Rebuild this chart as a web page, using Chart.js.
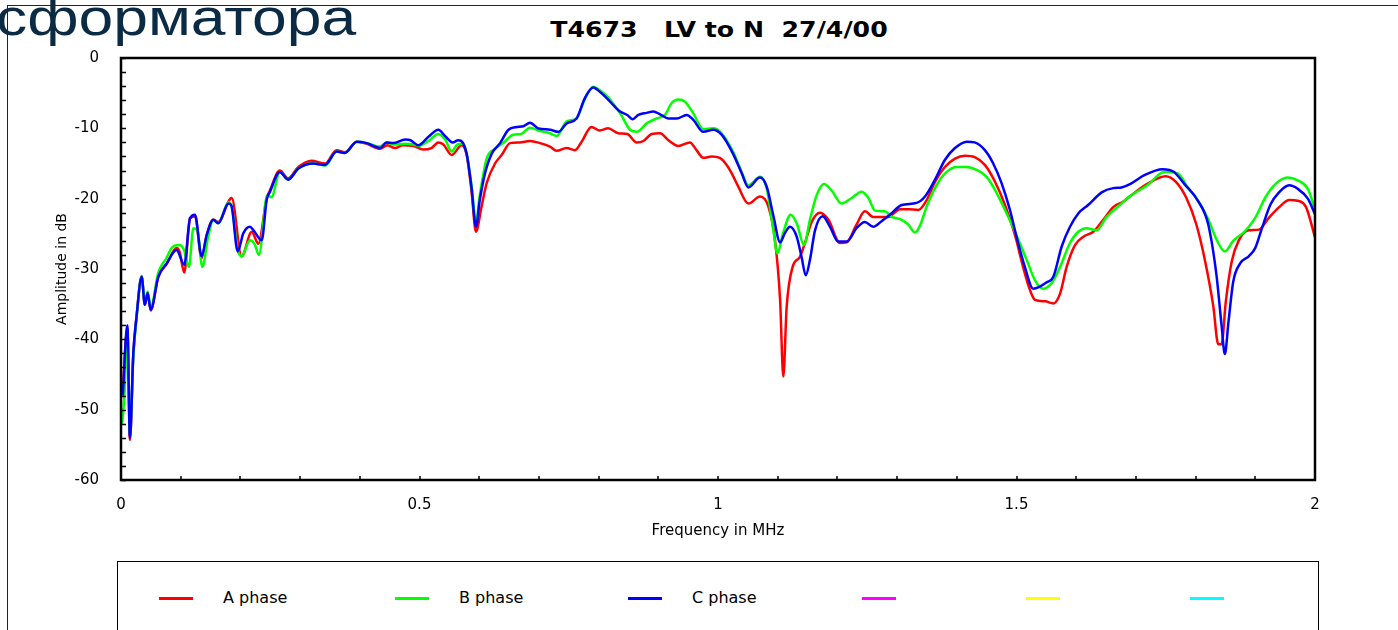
<!DOCTYPE html>
<html>
<head>
<meta charset="utf-8">
<script src="https://cdn.jsdelivr.net/npm/chart.js@4.4.1/dist/chart.umd.min.js"></script>
<style>
  body { margin: 0; width: 1398px; height: 630px; overflow: hidden; background: #fff; position: relative; }
  #slideText { position: absolute; left: -4px; top: -9px; font: 52px/52px "Liberation Sans", Arial, sans-serif; color: #0b2a44; transform: scaleX(1.2); transform-origin: 0 0; white-space: nowrap; z-index: 3; }
  #hline { position: absolute; left: 7px; top: 5px; width: 1391px; height: 1px; background: #222; }
  #vline { position: absolute; left: 7px; top: 5px; width: 1px; height: 625px; background: #222; }
  #chartTitle { position: absolute; left: 0; width: 1438px; top: 18px; text-align: center; font: bold 21px "DejaVu Sans", sans-serif; white-space: pre; color: #000; z-index: 2; transform: scaleX(1.2); transform-origin: 719px 0; }
  #wrap { position: absolute; left: 0; top: 0; width: 1398px; height: 630px; z-index: 2; }
  #legendBox { position: absolute; left: 117px; top: 561px; width: 1200px; height: 90px; border: 1px solid #000; background: #fff; z-index: 2; }
  .item { position: absolute; top: 0; height: 100%; }
  .swatch { position: absolute; top: 35px; width: 34px; height: 3px; }
  .lbl { position: absolute; left: 64px; top: 26px; font: 16px "DejaVu Sans", sans-serif; color: #000; white-space: nowrap; }
</style>
</head>
<body>
<div id="hline"></div>
<div id="vline"></div>
<div id="slideText">сформатора</div>
<div id="chartTitle">T4673   LV to N  27/4/00</div>
<div id="wrap"><canvas id="chart" width="1398" height="630"></canvas></div>
<div id="legendBox"></div>
<script>
// frequency in MHz / amplitude in dB
var freqA = [0.003,0.0106,0.015,0.0206,0.026,0.0346,0.040,0.0446,0.0497,0.0625,0.0765,0.093,0.098,0.106,0.1156,0.124,0.135,0.1435,0.1546,0.163,0.1854,0.202,0.219,0.23,0.244,0.2496,0.266,0.280,0.297,0.319,0.342,0.361,0.375,0.395,0.4115,0.434,0.446,0.459,0.472,0.49,0.506,0.52,0.5315,0.54,0.554,0.5706,0.579,0.587,0.5946,0.604,0.6125,0.6265,0.6376,0.6516,0.668,0.685,0.7019,0.7186,0.7297,0.7465,0.7605,0.7716,0.788,0.802,0.816,0.833,0.848,0.8638,0.875,0.889,0.903,0.917,0.9336,0.953,0.964,0.9754,0.9894,1.003,1.0145,1.023,1.034,1.0508,1.0704,1.0843,1.0955,1.104,1.1094,1.115,1.125,1.137,1.1457,1.157,1.171,1.185,1.2044,1.2155,1.232,1.246,1.260,1.285,1.305,1.32,1.3356,1.3496,1.3635,1.380,1.397,1.4137,1.430,1.447,1.464,1.4807,1.4975,1.511,1.5226,1.531,1.548,1.5617,1.573,1.584,1.598,1.612,1.6287,1.6454,1.662,1.679,1.691,1.719,1.750,1.767,1.784,1.801,1.815,1.8295,1.838,1.8436,1.8505,1.8606,1.872,1.889,1.906,1.923,1.94,1.957,1.971,1.985,2.0];
var ampA = [-47.0,-38.5,-54.3,-42.2,-36.8,-31.1,-35.1,-33.4,-35.9,-31.1,-29.3,-27.0,-27.5,-30.5,-22.8,-22.5,-28.5,-25.2,-23.0,-23.3,-19.9,-28.2,-24.7,-26.4,-20.0,-18.8,-16.0,-17.1,-15.5,-14.6,-15.0,-13.1,-13.4,-11.9,-12.2,-12.9,-12.4,-12.8,-12.4,-12.5,-13.0,-12.8,-12.0,-12.3,-13.8,-12.4,-13.8,-18.8,-24.7,-21.1,-17.8,-15.0,-13.8,-12.1,-12.0,-11.8,-12.1,-12.6,-13.2,-12.8,-13.1,-11.9,-9.8,-10.3,-10.0,-10.7,-10.8,-12.0,-11.8,-10.8,-10.7,-11.7,-12.5,-12.0,-13.1,-14.2,-14.0,-14.2,-15.2,-16.4,-18.3,-20.7,-19.7,-21.1,-25.9,-34.4,-45.3,-35.4,-29.7,-28.3,-26.3,-23.3,-22.0,-23.0,-26.3,-26.2,-23.7,-21.8,-22.6,-22.6,-21.5,-21.5,-21.6,-20.2,-17.6,-15.5,-14.3,-13.9,-14.1,-15.2,-17.6,-20.9,-25.2,-29.7,-33.0,-34.4,-34.6,-34.9,-33.5,-29.7,-26.6,-25.4,-24.7,-23.0,-21.2,-20.4,-19.6,-17.9,-16.8,-17.6,-19.8,-23.6,-28.5,-35.2,-40.7,-40.7,-34.7,-28.9,-26.0,-24.5,-24.4,-22.7,-21.2,-20.2,-20.3,-21.2,-25.5];

var freqB = [0.002,0.006,0.0106,0.015,0.0206,0.026,0.0346,0.040,0.0446,0.0497,0.0625,0.0765,0.085,0.098,0.105,0.1139,0.1211,0.128,0.1362,0.146,0.1546,0.163,0.180,0.185,0.1954,0.202,0.216,0.224,0.231,0.245,0.252,0.266,0.280,0.297,0.322,0.342,0.361,0.375,0.395,0.4115,0.434,0.445,0.456,0.476,0.49,0.498,0.515,0.5315,0.543,0.554,0.5636,0.573,0.579,0.587,0.5946,0.601,0.6125,0.625,0.64,0.657,0.67,0.685,0.699,0.7186,0.7297,0.7465,0.763,0.777,0.791,0.802,0.8136,0.8246,0.8358,0.8526,0.8638,0.8805,0.897,0.911,0.9224,0.9336,0.9447,0.9587,0.9754,0.992,1.006,1.0257,1.0397,1.0508,1.0704,1.0816,1.0927,1.0994,1.109,1.1217,1.1318,1.144,1.154,1.1653,1.1776,1.190,1.207,1.224,1.2407,1.252,1.263,1.2797,1.291,1.305,1.318,1.330,1.338,1.3496,1.366,1.383,1.4,1.4166,1.433,1.450,1.4668,1.4836,1.500,1.517,1.531,1.545,1.559,1.573,1.5896,1.6035,1.6176,1.634,1.651,1.673,1.691,1.719,1.7474,1.77,1.787,1.804,1.821,1.835,1.849,1.863,1.883,1.900,1.917,1.934,1.954,1.971,1.988,2.0];
var ampB = [-52.0,-47.5,-38.5,-53.5,-42.5,-37.0,-31.0,-35.0,-33.2,-35.6,-30.5,-28.4,-27.0,-26.6,-27.2,-29.7,-24.2,-24.5,-29.7,-25.4,-23.0,-23.5,-20.5,-21.0,-27.2,-28.2,-25.9,-26.5,-28.0,-19.5,-19.8,-16.2,-17.3,-15.7,-15.0,-15.3,-13.3,-13.5,-11.9,-12.1,-12.6,-12.0,-12.3,-12.2,-12.3,-12.5,-11.8,-10.8,-11.6,-13.3,-12.3,-12.2,-13.6,-18.0,-23.3,-19.5,-14.3,-13.0,-12.1,-10.9,-10.8,-9.9,-10.3,-10.7,-11.1,-9.0,-8.6,-5.8,-4.1,-4.6,-5.4,-6.5,-7.8,-10.2,-10.5,-9.3,-8.6,-8.1,-6.4,-5.9,-6.2,-7.9,-10.1,-10.0,-10.7,-13.4,-16.2,-18.1,-16.9,-18.6,-24.5,-27.8,-24.9,-22.3,-23.5,-26.6,-23.0,-19.5,-17.9,-18.8,-20.7,-19.9,-19.0,-19.9,-21.7,-21.8,-22.6,-22.9,-23.6,-24.8,-23.9,-21.1,-18.1,-16.2,-15.5,-15.5,-15.9,-16.9,-19.2,-22.1,-25.2,-28.7,-31.6,-32.8,-32.0,-29.7,-26.3,-24.7,-24.2,-24.5,-22.6,-20.9,-19.6,-18.1,-16.2,-16.4,-18.4,-20.3,-22.9,-25.8,-27.5,-26.0,-24.6,-22.7,-19.8,-17.9,-17.0,-17.4,-18.6,-21.5];

var freqC = [0.003,0.0106,0.015,0.0206,0.026,0.0346,0.040,0.0446,0.0497,0.0625,0.0765,0.093,0.106,0.1156,0.124,0.135,0.1435,0.1546,0.163,0.180,0.185,0.1954,0.205,0.216,0.222,0.2357,0.244,0.2496,0.266,0.280,0.297,0.322,0.342,0.361,0.375,0.395,0.4115,0.434,0.445,0.456,0.476,0.485,0.498,0.515,0.5315,0.543,0.5556,0.565,0.573,0.579,0.587,0.5946,0.601,0.6097,0.621,0.635,0.649,0.663,0.674,0.685,0.699,0.7186,0.7325,0.7465,0.763,0.777,0.791,0.802,0.8136,0.8246,0.8358,0.848,0.857,0.8666,0.8805,0.8916,0.903,0.917,0.931,0.9475,0.9587,0.9754,0.992,1.006,1.0257,1.0397,1.0508,1.0704,1.0816,1.0927,1.104,1.112,1.1206,1.1318,1.140,1.147,1.154,1.1625,1.1753,1.1876,1.2015,1.2155,1.232,1.246,1.260,1.274,1.288,1.3077,1.3328,1.3467,1.3635,1.380,1.397,1.4166,1.430,1.447,1.461,1.475,1.489,1.500,1.514,1.528,1.539,1.5506,1.5617,1.5757,1.5896,1.6035,1.620,1.6427,1.662,1.676,1.691,1.7134,1.7446,1.764,1.781,1.804,1.821,1.835,1.8436,1.849,1.855,1.863,1.8747,1.889,1.900,1.9115,1.9256,1.9397,1.9568,1.971,1.988,2.0];
var ampC = [-48.0,-38.0,-54.0,-42.0,-36.8,-31.1,-35.1,-33.4,-35.8,-31.1,-29.2,-27.3,-29.4,-22.8,-22.3,-28.2,-25.2,-23.0,-23.5,-20.7,-21.0,-27.5,-24.9,-24.0,-24.5,-25.9,-20.2,-19.0,-16.2,-17.3,-15.7,-15.0,-15.2,-13.3,-13.5,-11.9,-12.1,-12.8,-12.0,-12.1,-11.6,-11.7,-12.4,-11.2,-10.2,-11.1,-12.0,-11.7,-12.1,-13.6,-18.3,-24.0,-20.2,-16.4,-13.6,-12.1,-10.2,-9.8,-9.7,-9.2,-10.0,-10.2,-10.5,-9.3,-8.6,-5.7,-4.2,-4.8,-5.7,-6.7,-7.6,-8.1,-8.7,-8.1,-7.8,-7.6,-8.0,-8.6,-8.6,-8.1,-8.8,-10.5,-10.2,-10.9,-13.7,-16.4,-18.4,-17.0,-18.3,-22.4,-26.2,-24.9,-24.0,-25.4,-28.3,-30.9,-28.7,-24.5,-22.5,-24.0,-26.1,-26.1,-24.2,-23.3,-24.0,-23.2,-22.3,-20.9,-20.6,-19.7,-17.3,-14.5,-12.8,-11.9,-12.0,-13.1,-15.0,-17.8,-21.6,-25.4,-29.7,-32.8,-32.5,-31.9,-31.1,-26.8,-24.0,-22.1,-20.9,-19.1,-18.5,-18.4,-17.9,-16.7,-15.8,-16.2,-17.9,-20.3,-23.6,-30.9,-38.1,-42.1,-37.6,-31.8,-29.2,-28.2,-27.0,-24.1,-20.8,-19.1,-18.1,-18.6,-20.0,-22.2];

var seriesNames = ['A phase', 'B phase', 'C phase', '', '', ''];
var seriesColors = ['#ff0000', '#00ff00', '#0000ff', '#ff00ff', '#ffff00', '#00ffff'];

function pts(fx, ay) {
  return fx.map(function (f, i) { return { x: f, y: ay[i] }; });
}

var seriesData = [pts(freqA, ampA), pts(freqB, ampB), pts(freqC, ampC), [], [], []];

// thick frame plus the small inward ticks
var framePlugin = {
  id: 'frame',
  afterDraw: function (chart) {
    var ctx = chart.ctx, a = chart.chartArea, xs = chart.scales.x, ys = chart.scales.y;
    ctx.save();
    ctx.strokeStyle = '#000';
    ctx.lineWidth = 1.5;
    ctx.beginPath();
    for (var v = ys.min; v <= ys.max; v += 2) {
      var py = Math.round(ys.getPixelForValue(v)) + 0.5;
      ctx.moveTo(a.left, py); ctx.lineTo(a.left + 5, py);
    }
    for (var k = 0; k <= 20; k++) {
      var px = Math.round(xs.getPixelForValue(k / 10));
      ctx.moveTo(px, a.bottom); ctx.lineTo(px, a.bottom - 4);
    }
    ctx.stroke();
    ctx.lineWidth = 2.5;
    ctx.strokeRect(a.left, a.top, a.right - a.left, a.bottom - a.top);
    ctx.restore();
  }
};

var tickFont = { family: 'DejaVu Sans', size: 15 };

var chart = new Chart(document.getElementById('chart').getContext('2d'), {
  type: 'line',
  data: {
    datasets: seriesData.map(function (d, i) {
      return {
        label: seriesNames[i],
        data: d,
        borderColor: seriesColors[i],
        backgroundColor: seriesColors[i],
        borderWidth: 2.5,
        pointRadius: 0,
        cubicInterpolationMode: 'monotone',
        fill: false
      };
    }).reverse()
  },
  options: {
    responsive: false,
    animation: false,
    devicePixelRatio: 1,
    layout: { padding: { left: 0, right: 83, top: 58, bottom: 0 } },
    plugins: { legend: { display: false }, title: { display: false }, tooltip: { enabled: false } },
    scales: {
      x: {
        type: 'linear', min: 0, max: 2,
        grid: { display: false }, border: { display: false },
        ticks: {
          stepSize: 0.5, color: '#000', font: tickFont, padding: 8, maxRotation: 0,
          callback: function (v) { return String(v); }
        },
        title: { display: true, text: 'Frequency in MHz', color: '#000', font: { family: 'DejaVu Sans', size: 15 }, padding: { top: 0, bottom: 90 } },
        afterFit: function (s) { s.height = 150; }
      },
      y: {
        type: 'linear', min: -60, max: 0,
        grid: { display: false }, border: { display: false },
        ticks: { stepSize: 10, color: '#000', font: tickFont, padding: 14 },
        title: { display: true, text: 'Amplitude in dB', color: '#000', font: { family: 'DejaVu Sans', size: 14 }, padding: { top: 54, bottom: 0 } },
        afterFit: function (s) { s.width = 121; }
      }
    }
  },
  plugins: [framePlugin]
});

// legend box built from the datasets (A/B/C plus three empty traces)
var legendLeft = [41, 277, 510, 744, 908, 1072];
var box = document.getElementById('legendBox');
seriesNames.forEach(function (name, i) {
  var it = document.createElement('div');
  it.className = 'item';
  it.style.left = legendLeft[i] + 'px';
  var sw = document.createElement('div');
  sw.className = 'swatch';
  sw.style.background = seriesColors[i];
  it.appendChild(sw);
  if (name) {
    var t = document.createElement('div');
    t.className = 'lbl';
    t.textContent = name;
    it.appendChild(t);
  }
  box.appendChild(it);
});
</script>
</body>
</html>
